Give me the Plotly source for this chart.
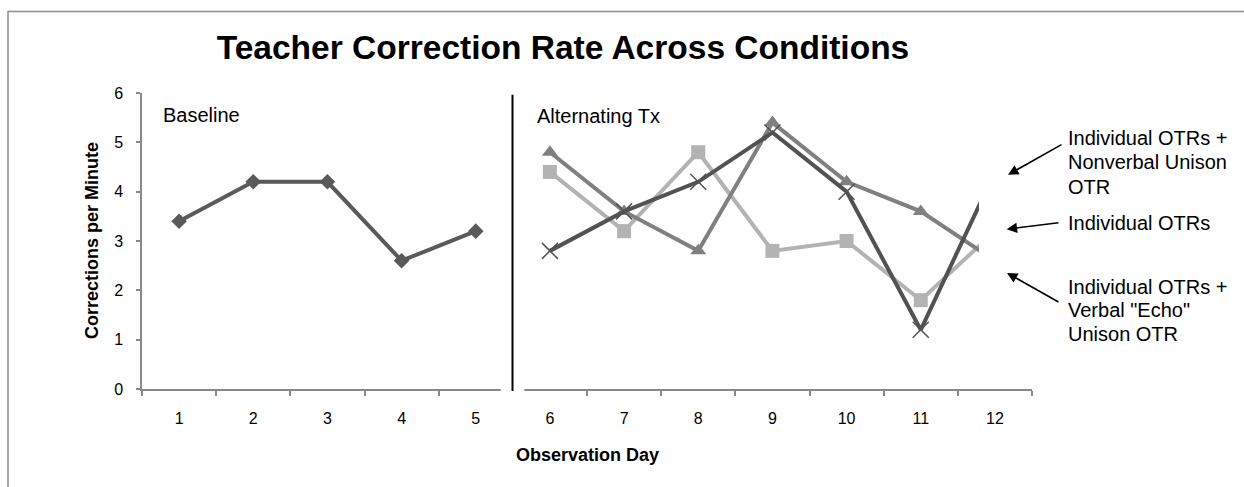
import plotly.graph_objects as go

# ---- data ----
days = [str(d) for d in range(1, 13)]
baseline_days = ["1", "2", "3", "4", "5"]
baseline_vals = [3.4, 4.2, 4.2, 2.6, 3.2]
tx_days = ["6", "7", "8", "9", "10", "11", "12"]
nonverbal_vals = [2.8, 3.6, 4.2, 5.2, 4.0, 1.2, 4.4]   # x markers
individual_vals = [4.4, 3.2, 4.8, 2.8, 3.0, 1.8, 3.2]  # squares
echo_vals = [4.8, 3.6, 2.8, 5.4, 4.2, 3.6, 2.6]        # triangles
y_ticks = [0, 1, 2, 3, 4, 5, 6]

W, H = 1244, 487
L, R, T, B = 142, 1032, 93.3, 389
PW, PH = R - L, B - T
FONT = "Liberation Sans, Arial, Helvetica, sans-serif"


def px(x):
    return (x - L) / PW


def py(y):
    return (B - y) / PH


fig = go.Figure()
fig.add_trace(go.Scatter(
    x=baseline_days, y=baseline_vals, mode="lines+markers", name="Baseline",
    line=dict(color="#5a5a5a", width=4),
    marker=dict(symbol="diamond", size=12, color="#5a5a5a")))
fig.add_trace(go.Scatter(
    x=tx_days, y=individual_vals, mode="lines+markers", name="Individual OTRs",
    line=dict(color="#b3b3b3", width=4),
    marker=dict(symbol="square", size=14, color="#b3b3b3")))
fig.add_trace(go.Scatter(
    x=tx_days, y=echo_vals, mode="lines+markers",
    name='Individual OTRs + Verbal "Echo" Unison OTR',
    line=dict(color="#808080", width=4),
    marker=dict(symbol="triangle-up", size=14, color="#808080")))
fig.add_trace(go.Scatter(
    x=tx_days, y=nonverbal_vals, mode="lines+markers",
    name="Individual OTRs + Nonverbal Unison OTR",
    line=dict(color="#525252", width=4),
    marker=dict(symbol="x-thin", size=16, color="#525252",
                line=dict(color="#525252", width=1.5))))

shapes = [
    # outer frame (top and left visible)
    dict(type="rect", xref="paper", yref="paper", x0=px(8), y0=py(520),
         x1=px(1260), y1=py(12), line=dict(color="#8c8c8c", width=1.5),
         fillcolor="rgba(0,0,0,0)", layer="below"),
    # white cover at right edge of plot
    dict(type="rect", xref="paper", yref="paper", x0=px(979), x1=px(1250),
         y0=py(383), y1=py(88), line=dict(width=0), fillcolor="white",
         layer="above"),
    # axis gap
    dict(type="rect", xref="paper", yref="paper", x0=px(500.7), x1=px(524.3),
         y0=py(396), y1=py(384), line=dict(width=0), fillcolor="white",
         layer="above"),
    # phase change line
    dict(type="line", xref="paper", yref="paper", x0=px(512.5), x1=px(512.5),
         y0=py(391), y1=py(95), line=dict(color="black", width=2),
         layer="above"),
]

annotations = [
    dict(text="Baseline", x=px(161), y=py(115), xref="paper", yref="paper",
         xanchor="left", yanchor="middle", showarrow=False,
         font=dict(family=FONT, size=20, color="black")),
    dict(text="Alternating Tx", x=px(535), y=py(116), xref="paper", yref="paper",
         xanchor="left", yanchor="middle", showarrow=False,
         font=dict(family=FONT, size=20, color="black")),
    dict(text="<b>Corrections per Minute</b>", x=px(92), y=0.5, xref="paper",
         yref="paper", textangle=-90, xanchor="center", yanchor="middle",
         showarrow=False, font=dict(family=FONT, size=18, color="black")),
    dict(text="<b>Observation Day</b>", x=px(587), y=py(455), xref="paper",
         yref="paper", xanchor="center", yanchor="middle", showarrow=False,
         font=dict(family=FONT, size=18, color="black")),
]

# arrows
for (hx, hy, tx, ty) in [(1008, 175, 1063, 144), (1006.7, 229.3, 1060, 222.7),
                         (1007, 273, 1060, 303)]:
    annotations.append(dict(
        text="", x=px(hx), y=py(hy), xref="paper", yref="paper",
        ax=tx - hx, ay=ty - hy, showarrow=True, arrowhead=2, arrowsize=1.3,
        arrowwidth=1.6, arrowcolor="black", standoff=0))

label_lines = [
    ("Individual OTRs +", 138), ("Nonverbal Unison", 162), ("OTR", 187),
    ("Individual OTRs", 223),
    ("Individual OTRs +", 287), ('Verbal "Echo"', 310), ("Unison OTR", 334),
]
for txt, yy in label_lines:
    annotations.append(dict(
        text=txt, x=px(1066), y=py(yy), xref="paper", yref="paper",
        xanchor="left", yanchor="middle", showarrow=False,
        font=dict(family=FONT, size=20, color="black")))

fig.update_layout(
    width=W, height=H,
    margin=dict(l=L, r=W - R, t=T, b=H - B, pad=0),
    paper_bgcolor="white", plot_bgcolor="white",
    showlegend=False,
    title=dict(text="<b>Teacher Correction Rate Across Conditions</b>",
               x=563 / W, xref="container", xanchor="center",
               y=1 - 47 / H, yref="container", yanchor="middle",
               font=dict(family=FONT, size=33.5, color="black")),
    xaxis=dict(type="category", categoryorder="array", categoryarray=days,
               range=[-0.5, 11.5], tickson="boundaries", ticks="outside",
               ticklen=5, tickwidth=1.5, tickcolor="#888888",
               showline=True, linecolor="#888888", linewidth=1.5,
               showgrid=False, zeroline=False, ticklabelstandoff=14,
               tickfont=dict(family=FONT, size=16, color="black")),
    yaxis=dict(range=[0, 6], tickvals=y_ticks, ticks="outside", ticklen=4,
               tickwidth=1.5, tickcolor="#888888", showline=True,
               linecolor="#888888", linewidth=1.5, showgrid=False,
               zeroline=False, ticklabelstandoff=10,
               tickfont=dict(family=FONT, size=16, color="black")),
    shapes=shapes,
    annotations=annotations,
)

fig.write_html("out.html")
